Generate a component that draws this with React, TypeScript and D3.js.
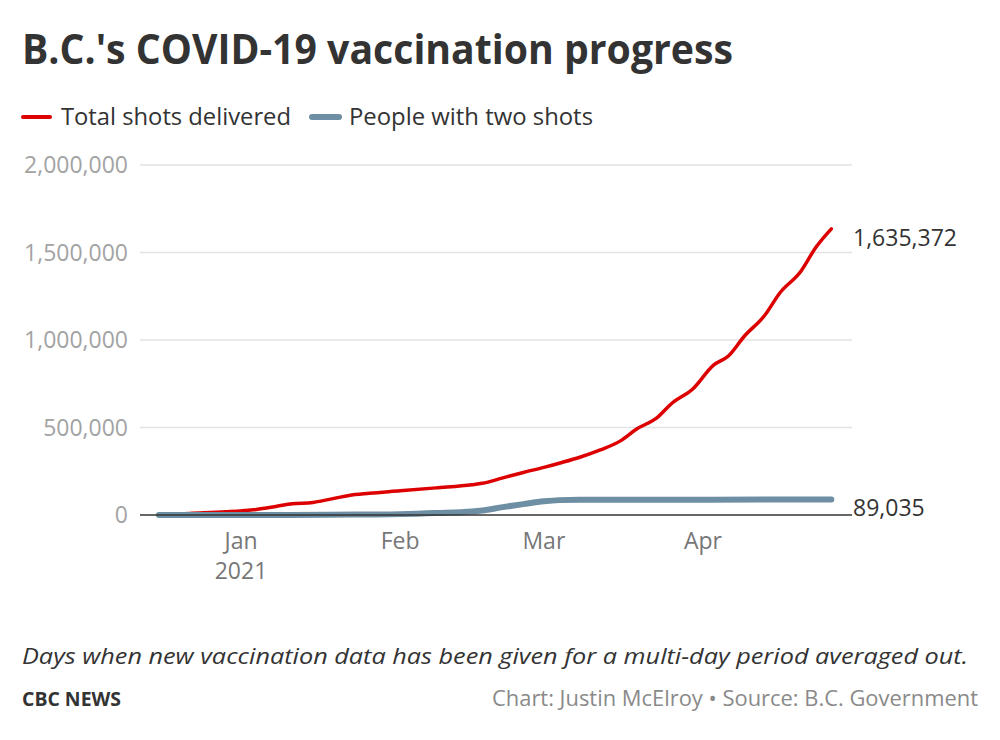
import React from "react";
import * as d3 from "d3";

const totalDates = [
  "2020-12-16", "2020-12-22", "2020-12-29", "2021-01-04", "2021-01-08", "2021-01-11",
  "2021-01-15", "2021-01-18", "2021-01-22", "2021-01-26", "2021-02-01", "2021-02-08",
  "2021-02-15", "2021-02-17", "2021-02-21", "2021-02-25", "2021-03-01", "2021-03-04",
  "2021-03-08", "2021-03-12", "2021-03-16", "2021-03-19", "2021-03-23", "2021-03-26",
  "2021-03-30", "2021-04-03", "2021-04-06", "2021-04-09", "2021-04-13", "2021-04-16",
  "2021-04-20", "2021-04-23", "2021-04-26",
];
const totalShots = [
  0, 9000, 18000, 32000, 50000, 64000,
  72000, 88000, 112000, 124000, 138000, 155000,
  173000, 181000, 212000, 243000, 272000, 296000,
  330000, 372000, 425000, 490000, 555000, 640000,
  720000, 855000, 910000, 1020000, 1140000, 1270000,
  1390000, 1530000, 1635372,
];

const twoDates = [
  "2020-12-16", "2021-01-04", "2021-01-18", "2021-01-25", "2021-02-01", "2021-02-08",
  "2021-02-15", "2021-02-17", "2021-02-21", "2021-02-25", "2021-03-01", "2021-03-04",
  "2021-03-08", "2021-04-01", "2021-04-20", "2021-04-26",
];
const twoShots = [
  0, 0, 1000, 3000, 5000, 11000,
  20000, 26000, 45000, 62000, 78000, 85000,
  87500, 87800, 88200, 89035,
];

const yTicks = [0, 500000, 1000000, 1500000, 2000000];
const monthTicks = ["2021-01-01", "2021-02-01", "2021-03-01", "2021-04-01"];
const monthLabels = ["Jan", "Feb", "Mar", "Apr"];

const FONT = "'Open Sans', 'Noto Sans', sans-serif";
const RED = "#dd0000";
const BLUE = "#6e8ea3";

export default function App() {
  const parse = d3.utcParse("%Y-%m-%d");
  const x = d3
    .scaleUtc()
    .domain([parse("2021-01-01")!, parse("2021-04-01")!])
    .range([241, 703]);
  const y = d3.scaleLinear().domain([0, 2000000]).range([515, 165]);

  const total = totalDates.map((d, i) => ({ date: parse(d)!, v: totalShots[i] }));
  const two = twoDates.map((d, i) => ({ date: parse(d)!, v: twoShots[i] }));

  const line = d3
    .line<{ date: Date; v: number }>()
    .x((d) => x(d.date))
    .y((d) => y(d.v))
    .curve(d3.curveMonotoneX);

  const fmt = d3.format(",");
  const gx0 = 140;
  const gx1 = 852;
  const lastT = total[total.length - 1];
  const lastB = two[two.length - 1];

  return (
    <svg
      width={1000}
      height={740}
      style={{ position: "absolute", left: 0, top: 0, background: "#fff" }}
      fontFamily={FONT}
    >
      <rect x={0} y={0} width={1000} height={740} fill="#fff" />
      <text x={22} y={64} fontSize={42} fontWeight={700} fill="#333" textLength={711} lengthAdjust="spacingAndGlyphs">
        B.C.'s COVID-19 vaccination progress
      </text>

      {/* legend */}
      <line x1={23} x2={50} y1={117} y2={117} stroke={RED} strokeWidth={4} strokeLinecap="round" />
      <text x={61} y={125} fontSize={23} fill="#333" textLength={230} lengthAdjust="spacingAndGlyphs">
        Total shots delivered
      </text>
      <line x1={312} x2={339} y1={117} y2={117} stroke={BLUE} strokeWidth={6} strokeLinecap="round" />
      <text x={349} y={125} fontSize={23} fill="#333" textLength={244} lengthAdjust="spacingAndGlyphs">
        People with two shots
      </text>

      {/* gridlines and y labels */}
      {yTicks.map((t) => (
        <g key={t}>
          {t > 0 && <line x1={gx0} x2={gx1} y1={y(t)} y2={y(t)} stroke="#e3e3e3" strokeWidth={1.5} />}
          <text x={128} y={y(t)} dy="0.35em" textAnchor="end" fontSize={23} fill="#a3a3a3">
            {fmt(t)}
          </text>
        </g>
      ))}

      {/* x labels */}
      {monthTicks.map((m, i) => (
        <g key={m}>
          <text x={x(parse(m)!)} y={549} textAnchor="middle" fontSize={23} fill="#777">
            {monthLabels[i]}
          </text>
          {i === 0 && (
            <text x={x(parse(m)!)} y={579} textAnchor="middle" fontSize={23} fill="#777">
              2021
            </text>
          )}
        </g>
      ))}

      {/* lines */}
      <path d={line(total) || ""} fill="none" stroke={RED} strokeWidth={3.5} strokeLinejoin="round" strokeLinecap="round" />
      <path d={line(two) || ""} fill="none" stroke={BLUE} strokeWidth={6} strokeLinejoin="round" strokeLinecap="round" />
      <line x1={gx0} x2={gx1} y1={y(0)} y2={y(0)} stroke="#333" strokeWidth={1.5} />

      {/* end labels */}
      <text x={853} y={y(lastT.v) + 9} dy="0.35em" fontSize={23} fill="#333">
        {fmt(lastT.v)}
      </text>
      <text x={853} y={y(lastB.v) + 9} dy="0.35em" fontSize={23} fill="#333">
        {fmt(lastB.v)}
      </text>

      {/* footer */}
      <text x={22} y={664} fontSize={22} fontStyle="italic" fill="#333" textLength={946} lengthAdjust="spacingAndGlyphs">
        Days when new vaccination data has been given for a multi-day period averaged out.
      </text>
      <text x={22} y={706} fontSize={20} fontWeight={700} fill="#333" textLength={99} lengthAdjust="spacingAndGlyphs">
        CBC NEWS
      </text>
      <text x={978} y={706} fontSize={21} textAnchor="end" fill="#8a8a8a" textLength={486} lengthAdjust="spacingAndGlyphs">
        Chart: Justin McElroy • Source: B.C. Government
      </text>
    </svg>
  );
}
